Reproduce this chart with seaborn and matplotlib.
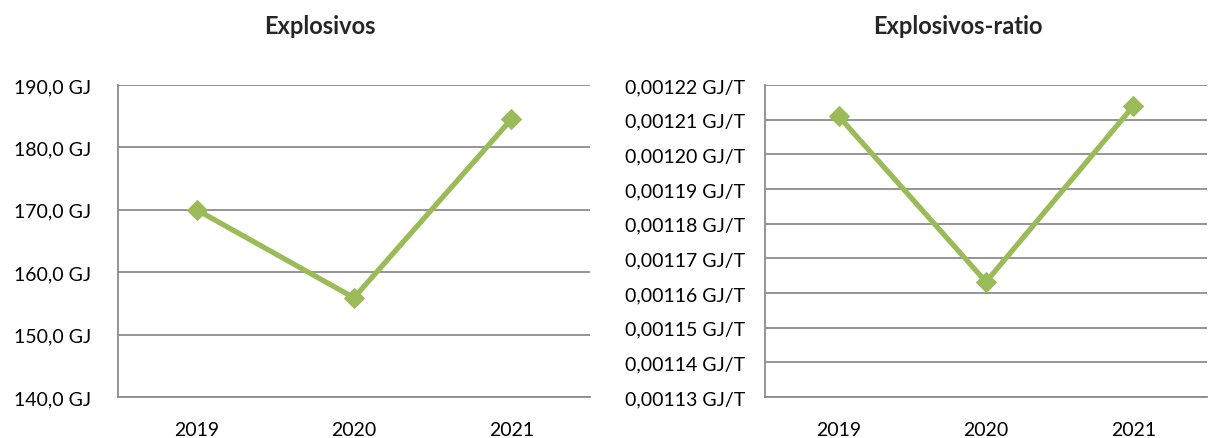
import seaborn as sns
import pandas as pd
import matplotlib.pyplot as plt
from matplotlib.ticker import FuncFormatter, MultipleLocator

years = ["2019", "2020", "2021"]
explosivos_gj = [170.0, 155.9, 184.5]
explosivos_ratio = [0.001211, 0.0011632, 0.0012139]

sns.set_style("white")
plt.rcParams["font.family"] = ["Lato", "DejaVu Sans"]

GREEN = "#9BBB59"
GRID = "#8C8C8C"

fig = plt.figure(figsize=(12.15, 4.39), dpi=100)
ax1 = fig.add_axes([118 / 1215, 1 - 398 / 439, 472 / 1215, 312 / 439])
ax2 = fig.add_axes([765 / 1215, 1 - 398 / 439, 442 / 1215, 312 / 439])

df1 = pd.DataFrame({"year": years, "value": explosivos_gj})
df2 = pd.DataFrame({"year": years, "value": explosivos_ratio})


def style_axis(ax, ylim, step, fmt, ypad):
    ax.set_xlim(-0.5, 2.5)
    ax.set_ylim(*ylim)
    ax.yaxis.set_major_locator(MultipleLocator(step))
    ax.yaxis.set_major_formatter(FuncFormatter(fmt))
    ax.grid(axis="y", color=GRID, linewidth=1.3)
    ax.set_axisbelow(True)
    for side in ["top", "right"]:
        ax.spines[side].set_visible(False)
    for side in ["left", "bottom"]:
        ax.spines[side].set_color(GRID)
        ax.spines[side].set_linewidth(1.3)
    ax.tick_params(length=0, labelsize=14, colors="black")
    ax.tick_params(axis="y", pad=ypad)
    ax.tick_params(axis="x", pad=17)
    ax.set_xlabel("")
    ax.set_ylabel("")


for ax, df in [(ax1, df1), (ax2, df2)]:
    sns.lineplot(data=df, x="year", y="value", ax=ax, color=GREEN,
                 linewidth=3.8, marker="D", markersize=10.5,
                 markeredgecolor=GREEN, sort=False)

style_axis(ax1, (140, 190), 10,
           lambda v, p: f"{v:.1f}".replace(".", ",") + " GJ", 19)
style_axis(ax2, (0.00113, 0.00122), 0.00001,
           lambda v, p: f"{v:.5f}".replace(".", ",") + " GJ/T", 14.5)

fig.text(320 / 1215, 1 - 27 / 439, "Explosivos", ha="center", va="center",
         fontsize=17, fontweight="bold")
fig.text(958 / 1215, 1 - 27 / 439, "Explosivos-ratio", ha="center",
         va="center", fontsize=17, fontweight="bold")

fig.savefig("out.png", dpi=100)
